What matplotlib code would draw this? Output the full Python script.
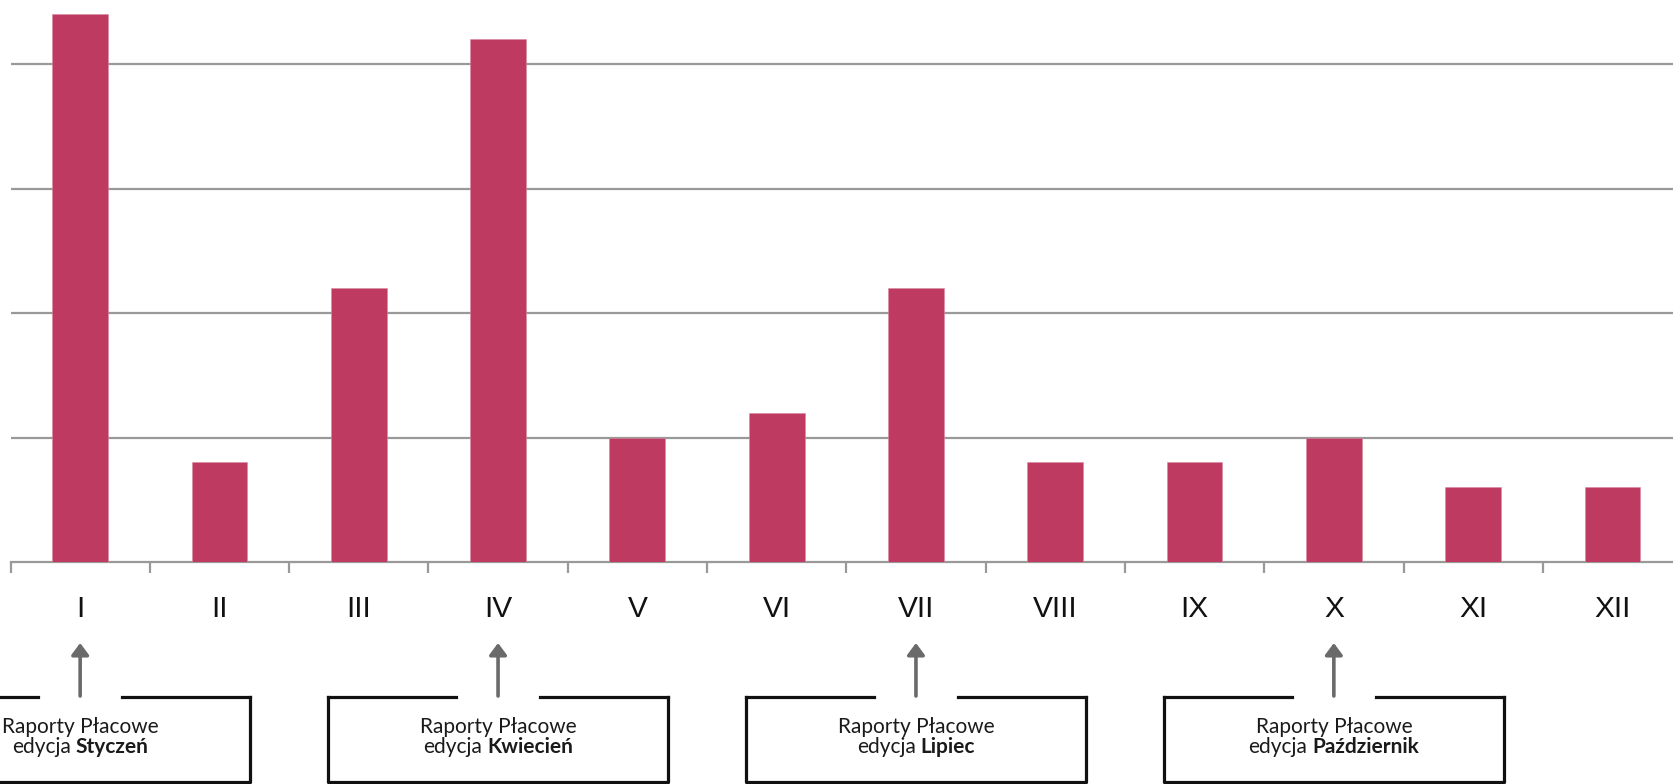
import matplotlib

matplotlib.use("Agg")
import matplotlib.pyplot as plt
import matplotlib.transforms as mtransforms
import numpy as np

W, H = 1673, 784
DPI = 100

months = ["I", "II", "III", "IV", "V", "VI", "VII", "VIII", "IX", "X", "XI", "XII"]
counts = [22, 4, 11, 21, 5, 6, 11, 4, 4, 5, 3, 3]

# editions of the salary report, pointed at under the month axis
edition_months = [0, 3, 6, 9]
edition_names = ["Styczeń", "Kwiecień", "Lipiec", "Październik"]

BAR_COLOR = "#BE3A61"
GRID_COLOR = "#999999"


def px_y(y_from_top):
    return (H - y_from_top) / H


fig = plt.figure(figsize=(W / DPI, H / DPI), dpi=DPI)
ax = fig.add_axes([10.5 / W, px_y(562), 12 * 139.3 / W, 562 / H])

x = np.arange(len(months))
ax.bar(x, counts, width=0.4, color=BAR_COLOR, edgecolor="#D98AA2", linewidth=0.4, zorder=3)

ax.set_xlim(-0.5, len(months) - 0.5)
ax.set_ylim(0, 562 / 124.5 * 5)
ax.set_yticks([5, 10, 15, 20])
ax.yaxis.grid(True, color=GRID_COLOR, linewidth=1.6, zorder=0)
ax.tick_params(axis="y", left=False, labelleft=False)

ax.set_xticks(np.arange(-0.5, len(months), 1))
ax.set_xticklabels([])
ax.set_xticks(x, minor=True)
ax.set_xticklabels(months, minor=True, fontsize=21.5, family="Liberation Sans", color="#111111")
ax.tick_params(axis="x", which="major", direction="out", length=8, width=1.6, color=GRID_COLOR)
ax.tick_params(axis="x", which="minor", length=0, pad=24)

for side in ["top", "right", "left"]:
    ax.spines[side].set_visible(False)
ax.spines["bottom"].set_color(GRID_COLOR)
ax.spines["bottom"].set_linewidth(1.6)

trans = mtransforms.blended_transform_factory(ax.transData, fig.transFigure)
unit_px = ax.bbox.width / len(months)

box_half = 170 / unit_px
gap_half = 42 / unit_px
box_top = px_y(697)
box_bottom = px_y(782)
line_kw = dict(color="#111111", linewidth=2.3, transform=trans, clip_on=False, solid_capstyle="projecting")
text_kw = dict(family="Lato", fontsize=15, color="#1a1a1a", transform=trans, va="baseline")

renderer = fig.canvas.get_renderer()
for m, name in zip(edition_months, edition_names):
    left, right = m - box_half, m + box_half
    ax.plot([left, left, right, right], [box_top, box_bottom, box_bottom, box_top], **line_kw)
    ax.plot([left, m - gap_half], [box_top, box_top], **line_kw)
    ax.plot([m + gap_half, right], [box_top, box_top], **line_kw)

    ax.annotate(
        "",
        xy=(m, px_y(643)),
        xytext=(m, px_y(696)),
        xycoords=trans,
        textcoords=trans,
        annotation_clip=False,
        arrowprops=dict(
            arrowstyle="-|>,head_length=0.35,head_width=0.26",
            mutation_scale=20,
            color="#6a6a6a",
            linewidth=2.6,
            shrinkA=0,
            shrinkB=0,
        ),
    )

    ax.text(m, px_y(733), "Raporty Płacowe", ha="center", **text_kw)
    t1 = ax.text(m, px_y(753), "edycja", ha="left", **text_kw)
    t2 = ax.text(m, px_y(753), name, ha="left", fontweight="bold", **text_kw)
    w1 = t1.get_window_extent(renderer).width
    w_space = 5
    w2 = t2.get_window_extent(renderer).width
    start = m - (w1 + w_space + w2) / 2 / unit_px
    t1.set_x(start)
    t2.set_x(start + (w1 + w_space) / unit_px)

fig.savefig("out.png", dpi=DPI)
